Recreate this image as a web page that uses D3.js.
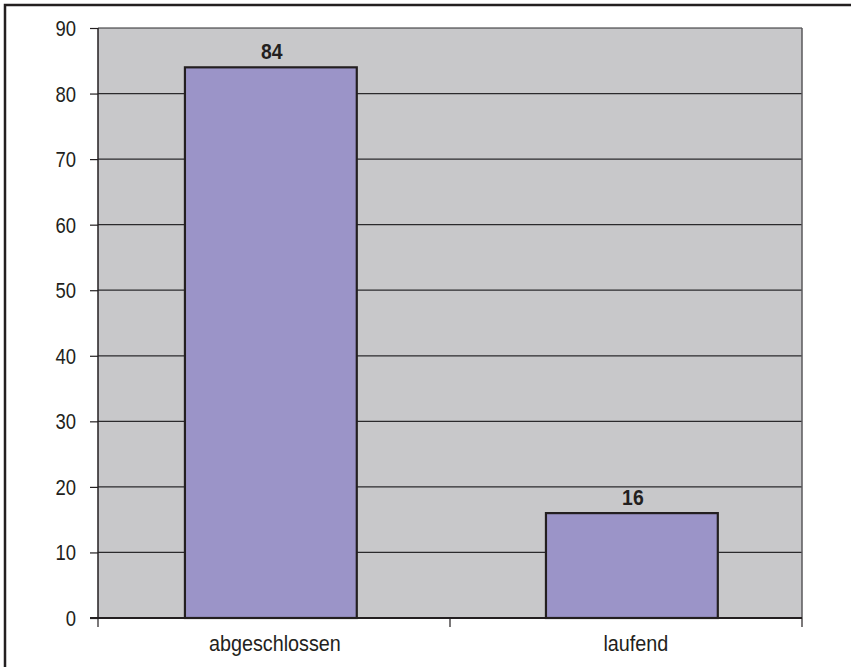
<!DOCTYPE html>
<html><head><meta charset="utf-8">
<script src="https://cdn.jsdelivr.net/npm/d3@7"></script>
<style>
html,body{margin:0;padding:0;background:#fff;}
text{font-family:"Liberation Sans",Arial,sans-serif;fill:#231f20;}
</style></head><body>
<svg id="c" width="851" height="667"></svg>
<script>
const categories = ["abgeschlossen", "laufend"];
const values = [84, 16];
const yTicks = [0, 10, 20, 30, 40, 50, 60, 70, 80, 90];

const svg = d3.select("#c");
const L = 98, R = 802, T = 28, B = 618;

// outer frame
svg.append("path").attr("d", `M5,667 V5 H851`).attr("fill","none").attr("stroke","#231f20").attr("stroke-width",2.5);

const x = d3.scaleBand().domain(categories).range([L, R]).paddingInner(0.524).paddingOuter(0.237).align(0.508);
const y = d3.scaleLinear().domain([0, 90]).range([B, T]);

svg.append("rect").attr("x", L).attr("y", T).attr("width", R - L).attr("height", B - T).attr("fill", "#c8c8ca");

// gridlines
svg.append("g").selectAll("line").data(yTicks.filter(d => d > 0)).join("line")
  .attr("x1", L).attr("x2", R).attr("y1", d => y(d)).attr("y2", d => y(d))
  .attr("stroke", "#2b2a2c").attr("stroke-width", 1.2);

// right border
svg.append("line").attr("x1", R).attr("x2", R).attr("y1", T).attr("y2", B).attr("stroke", "#5a595b").attr("stroke-width", 1.5);

// bars
svg.append("g").selectAll("rect").data(values).join("rect")
  .attr("x", (d, i) => x(categories[i])).attr("width", x.bandwidth())
  .attr("y", d => y(d)).attr("height", d => B - y(d))
  .attr("fill", "#9b94c8").attr("stroke", "#231f20").attr("stroke-width", 2.2);

// value labels
svg.append("g").selectAll("text").data(values).join("text")
  .attr("transform", (d, i) => `translate(${x(categories[i]) + x.bandwidth() / 2 + 1},${y(d) - 8}) scale(0.88,1)`)
  .attr("text-anchor", "middle").attr("font-size", 22).attr("font-weight", "bold").text(d => d);

// y axis
const yAxis = d3.axisLeft(y).tickValues(yTicks).tickSize(8).tickPadding(0).tickFormat(() => "");
const gy = svg.append("g").attr("transform", `translate(${L},0)`).call(yAxis);
gy.select(".domain").attr("stroke", "#231f20").attr("stroke-width", 1.5).attr("d", `M0,${T}V${B}`);
gy.selectAll(".tick line").attr("stroke", "#231f20").attr("stroke-width", 1.2);
svg.append("g").selectAll("text").data(yTicks).join("text")
  .attr("transform", d => `translate(${L - 22},${y(d) + 8}) scale(0.84,1)`)
  .attr("text-anchor", "end").attr("font-size", 22).text(d => d);

// x axis
const xEdges = [L, (L + R) / 2, R];
svg.append("line").attr("x1", L - 8).attr("x2", R).attr("y1", B).attr("y2", B).attr("stroke", "#231f20").attr("stroke-width", 2);
svg.append("g").selectAll("line").data(xEdges).join("line")
  .attr("x1", d => d).attr("x2", d => d).attr("y1", B).attr("y2", B + 9)
  .attr("stroke", "#231f20").attr("stroke-width", 1.2);
svg.append("g").selectAll("text").data(categories).join("text")
  .attr("transform", d => `translate(${x(d) + x.bandwidth() / 2 + 4},${B + 33}) scale(0.9,1)`)
  .attr("text-anchor", "middle").attr("font-size", 22).text(d => d);
</script>
</body></html>
